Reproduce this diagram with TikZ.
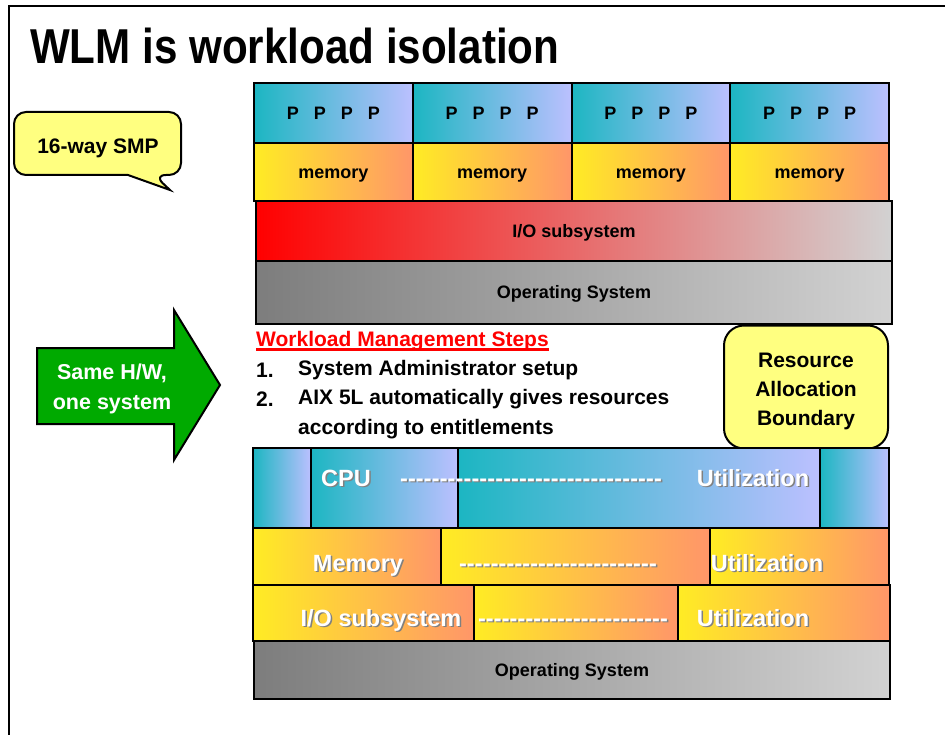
\documentclass[tikz,border=0pt]{standalone}
\usepackage{fontspec}
\setmainfont{Liberation Sans}
\newfontfamily\titlefont[FakeStretch=0.86]{Liberation Sans}
\usetikzlibrary{positioning}

\definecolor{teal1}{RGB}{28,182,194}
\definecolor{lav}{RGB}{188,192,255}
\definecolor{yel}{RGB}{255,236,36}
\definecolor{salmon}{RGB}{255,150,105}
\definecolor{lgray}{RGB}{210,210,210}
\definecolor{dgray}{RGB}{125,125,125}
\definecolor{pinkmid}{RGB}{240,125,125}
\definecolor{notefill}{RGB}{255,255,128}
\definecolor{arrowgreen}{RGB}{0,170,0}

\newcommand{\shadowed}[1]{\makebox[0pt][l]{\hspace{1.5pt}\raisebox{-1.5pt}{\color{black!50}#1}}#1}
\newcommand{\dashrow}[1]{\makebox[#1]{\xleaders\hbox{-}\hfill}}

\tikzstyle{cpubox} = [rectangle, anchor=north west, inner sep=0pt, draw=black, line width=2pt,
left color=teal1, right color=lav, text height=13pt, text depth=0pt,
font=\fontsize{18}{20}\selectfont\bfseries]
\tikzstyle{membox} = [rectangle, anchor=north west, inner sep=0pt, draw=black, line width=2pt,
left color=yel, right color=salmon, text height=13pt, text depth=0pt,
font=\fontsize{18}{20}\selectfont\bfseries]
\tikzstyle{iobar} = [rectangle, anchor=north west, inner sep=0pt, draw=black, line width=2pt,
left color=red, middle color=pinkmid, right color=lgray, text height=13pt, text depth=0pt,
font=\fontsize{18}{20}\selectfont\bfseries]
\tikzstyle{osbar} = [rectangle, anchor=north west, inner sep=0pt, draw=black, line width=2pt,
left color=dgray, right color=lgray, text height=13pt, text depth=0pt,
font=\fontsize{18}{20}\selectfont\bfseries]
\tikzstyle{wtext} = [anchor=base, inner sep=0pt, text=white, font=\fontsize{23.5}{26}\selectfont\bfseries]
\tikzstyle{steptext} = [anchor=west, inner sep=0pt, font=\fontsize{21}{24}\selectfont\bfseries]
\tikzstyle{notebox} = [rectangle, draw=black, line width=2pt, fill=notefill]

\begin{document}
\begin{tikzpicture}[x=1pt, y=-1pt]
\useasboundingbox (0,0) rectangle (945,735);

% slide frame
\draw[line width=1.5pt] (9,735) -- (9,6) -- (945,6);

\node (title) [anchor=base west, inner sep=0pt, font={\titlefont\bfseries\fontsize{49}{55}\selectfont}] at (30,64) {WLM is workload isolation};

% hardware
\node (p1) [cpubox, minimum width=158.75pt, minimum height=60pt] at (253,82) {P\hspace{15pt}P\hspace{15pt}P\hspace{15pt}P};
\node (p2) [cpubox, minimum width=158.75pt, minimum height=60pt] at (411.75,82) {P\hspace{15pt}P\hspace{15pt}P\hspace{15pt}P};
\node (p3) [cpubox, minimum width=158.75pt, minimum height=60pt] at (570.5,82) {P\hspace{15pt}P\hspace{15pt}P\hspace{15pt}P};
\node (p4) [cpubox, minimum width=158.75pt, minimum height=60pt] at (729.25,82) {P\hspace{15pt}P\hspace{15pt}P\hspace{15pt}P};
\node (m1) [membox, minimum width=158.75pt, minimum height=58pt] at (253,142) {memory};
\node (m2) [membox, minimum width=158.75pt, minimum height=58pt] at (411.75,142) {memory};
\node (m3) [membox, minimum width=158.75pt, minimum height=58pt] at (570.5,142) {memory};
\node (m4) [membox, minimum width=158.75pt, minimum height=58pt] at (729.25,142) {memory};
\node (io) [iobar, minimum width=636pt, minimum height=60pt] at (255,200) {I/O subsystem};
\node (os) [osbar, minimum width=636pt, minimum height=63pt] at (255,260) {Operating System};

% callout
\draw[fill=notefill, line width=2pt] (14,143) [rounded corners=12pt] -- (14,112) -- (181,112) -- (181,175) -- (154,175) [sharp corners] -- (170,190) -- (128,175) [rounded corners=12pt] -- (14,175) -- cycle;
\node (smp) [font=\fontsize{21}{24}\selectfont\bfseries] at (98,148) {16-way SMP};

% big arrow
\draw[fill=arrowgreen, line width=2pt, line join=miter] (37,348) -- (174,348) -- (174,310) -- (220,385) -- (174,460) -- (174,424) -- (37,424) -- cycle;
\node (samehw) [text=white, align=center, font=\fontsize{21.5}{30}\selectfont\bfseries] at (112,389) {Same H/W,\\one system};

% steps
\node (hdr) [anchor=base west, inner sep=0pt, text=red, font=\fontsize{21}{24}\selectfont\bfseries] at (256,346) {Workload Management Steps};
\draw[red, line width=2.5pt] ([yshift=-3.5pt]hdr.base west) -- ([yshift=-3.5pt]hdr.base east);
\node (n1) [steptext] at (256,370) {1.};
\node (s1) [steptext] at (298,370) {System Administrator setup};
\node (n2) [steptext] at (256,399) {2.};
\node (s2) [steptext] at (298,399) {AIX 5L automatically gives resources};
\node (s3) [steptext] at (298,429) {according to entitlements};

\node (rab) [notebox, rounded corners=20pt, minimum width=164pt, minimum height=123pt] at (806,387) {};
\node (rabtxt) [align=center, font=\fontsize{21}{29}\selectfont\bfseries] at (806,391) {Resource\\Allocation\\Boundary};

% workload managed resources
\node (cl) [cpubox, minimum width=58pt, minimum height=80pt] at (252,447) {};
\node (cpu) [cpubox, minimum width=147pt, minimum height=80pt] at (310,447) {};
\node (cu) [cpubox, minimum width=362pt, minimum height=80pt] at (457,447) {};
\node (cr) [cpubox, minimum width=69pt, minimum height=80pt] at (819,447) {};
\node (ml) [membox, minimum width=188pt, minimum height=57pt] at (252,527) {};
\node (mm) [membox, minimum width=269pt, minimum height=57pt] at (440,527) {};
\node (mr) [membox, minimum width=179pt, minimum height=57pt] at (709,527) {};
\node (il) [membox, minimum width=221pt, minimum height=56pt] at (252,584) {};
\node (im) [membox, minimum width=204pt, minimum height=56pt] at (473,584) {};
\node (ir) [membox, minimum width=212pt, minimum height=56pt] at (677,584) {};
\node (os2) [osbar, minimum width=636pt, minimum height=58pt] at (253,640) {Operating System};

\node (cputxt) [wtext] at (346,486) {\shadowed{CPU}};
\node (cpudash) [wtext] at (531,486) {\shadowed{\dashrow{262pt}}};
\node (cpuutil) [wtext] at (753,486) {\shadowed{Utilization}};
\node (memtxt) [wtext] at (358,571) {\shadowed{Memory}};
\node (memdash) [wtext] at (558,571) {\shadowed{\dashrow{198pt}}};
\node (memutil) [wtext] at (767,571) {\shadowed{Utilization}};
\node (iotxt) [wtext] at (381,626) {\shadowed{I/O subsystem}};
\node (iodash) [wtext] at (573,626) {\shadowed{\dashrow{190pt}}};
\node (ioutil) [wtext] at (753,626) {\shadowed{Utilization}};

\end{tikzpicture}
\end{document}
